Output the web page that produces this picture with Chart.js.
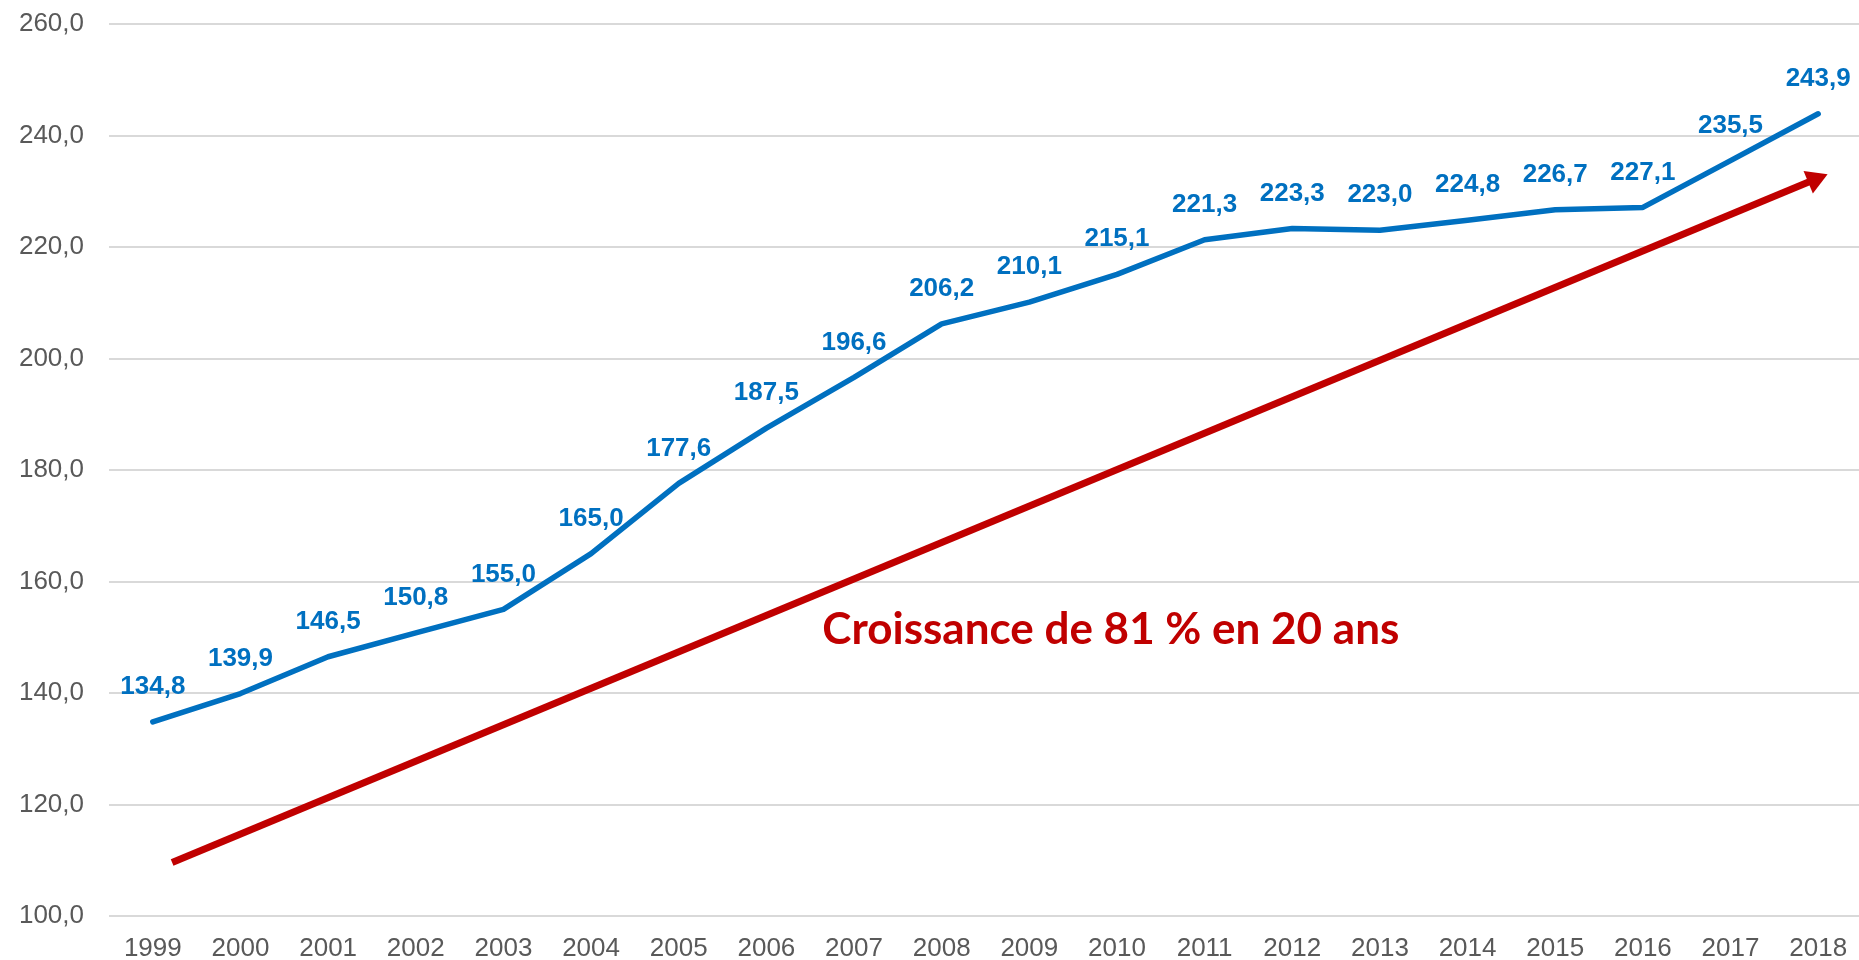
<!DOCTYPE html>
<html>
<head>
<meta charset="utf-8">
<script src="https://cdn.jsdelivr.net/npm/chart.js@4.4.1/dist/chart.umd.min.js"></script>
<style>
html,body{margin:0;padding:0;background:#fff;overflow:hidden;}
#wrap{position:absolute;left:0;top:0;width:1862px;height:962px;}
</style>
</head>
<body>
<div id="wrap"><canvas id="c"></canvas></div>
<script>
const years = ['1999','2000','2001','2002','2003','2004','2005','2006','2007','2008','2009','2010','2011','2012','2013','2014','2015','2016','2017','2018'];
const values = [134.8,139.9,146.5,150.8,155.0,165.0,177.6,187.5,196.6,206.2,210.1,215.1,221.3,223.3,223.0,224.8,226.7,227.1,235.5,243.9];
const arrowPoints = [{x:0.22, y:109.6},{x:18.96, y:232.1}];
const yTicks = {min:100, max:260, step:20};
const annotationText = 'Croissance de 81 % en 20 ans';
const annotationPos = {x:10.93, y:148.8};

const BLUE = '#0070C0';
const RED = '#C00000';

const fmt = v => v.toFixed(1).replace('.', ',');

const labelPlugin = {
  id:'valueLabels',
  afterDatasetsDraw(chart){
    const ctx = chart.ctx;
    const meta = chart.getDatasetMeta(0);
    ctx.save();
    ctx.font = 'bold 26px "Liberation Sans", Arial, sans-serif';
    ctx.fillStyle = BLUE;
    ctx.textAlign = 'center';
    ctx.textBaseline = 'middle';
    meta.data.forEach((pt, i) => {
      ctx.fillText(fmt(values[i]), pt.x, pt.y - 35);
    });
    const xs = chart.scales.x2, ys = chart.scales.y;
    const ax = xs.getPixelForValue(annotationPos.x), ay = ys.getPixelForValue(annotationPos.y);
    ctx.font = 'bold 44px Lato, "Open Sans", sans-serif';
    ctx.fillStyle = RED;
    ctx.textBaseline = 'alphabetic';
    ctx.fillText(annotationText, ax, ay);
    ctx.restore();
  }
};

new Chart(document.getElementById('c'), {
  type:'line',
  data:{
    labels: years,
    datasets:[
      {
        data: values,
        borderColor: BLUE,
        borderWidth: 5.5,
        borderCapStyle:'round',
        borderJoinStyle:'round',
        pointRadius: 0,
        tension: 0,
        xAxisID:'x', yAxisID:'y'
      },
      {
        data: arrowPoints,
        borderColor: RED,
        backgroundColor: RED,
        borderWidth: 7,
        borderCapStyle:'butt',
        pointRadius: [0, 14],
        pointStyle: 'triangle',
        pointRotation: 67.4,
        pointBackgroundColor: RED,
        pointBorderColor: RED,
        pointBorderWidth: 0,
        tension: 0,
        xAxisID:'x2', yAxisID:'y'
      }
    ]
  },
  options:{
    responsive:true,
    maintainAspectRatio:false,
    animation:false,
    layout:{autoPadding:false, padding:{left:20, top:24, right:0, bottom:0}},
    plugins:{legend:{display:false}, tooltip:{enabled:false}},
    scales:{
      x:{
        type:'category',
        offset:true,
        grid:{display:false, drawTicks:false},
        border:{display:false},
        ticks:{color:'#595959', font:{family:'"Liberation Sans", Arial, sans-serif', size:26}, padding:17, maxRotation:0, autoSkip:false},
        afterFit(scale){ scale.height = 46; scale.paddingLeft = 0; scale.paddingRight = 0; }
      },
      x2:{
        type:'linear',
        display:false,
        min:-0.5, max:19.5
      },
      y:{
        min: yTicks.min, max: yTicks.max,
        grid:{color:'#D9D9D9', lineWidth:2, drawTicks:false},
        border:{display:false},
        ticks:{stepSize: yTicks.step, color:'#595959', font:{family:'"Liberation Sans", Arial, sans-serif', size:26}, padding:25, callback: v => fmt(v)},
        afterFit(scale){ scale.width = 89; scale.paddingTop = 0; scale.paddingBottom = 0; }
      }
    }
  },
  plugins:[labelPlugin]
});
</script>
</body>
</html>
